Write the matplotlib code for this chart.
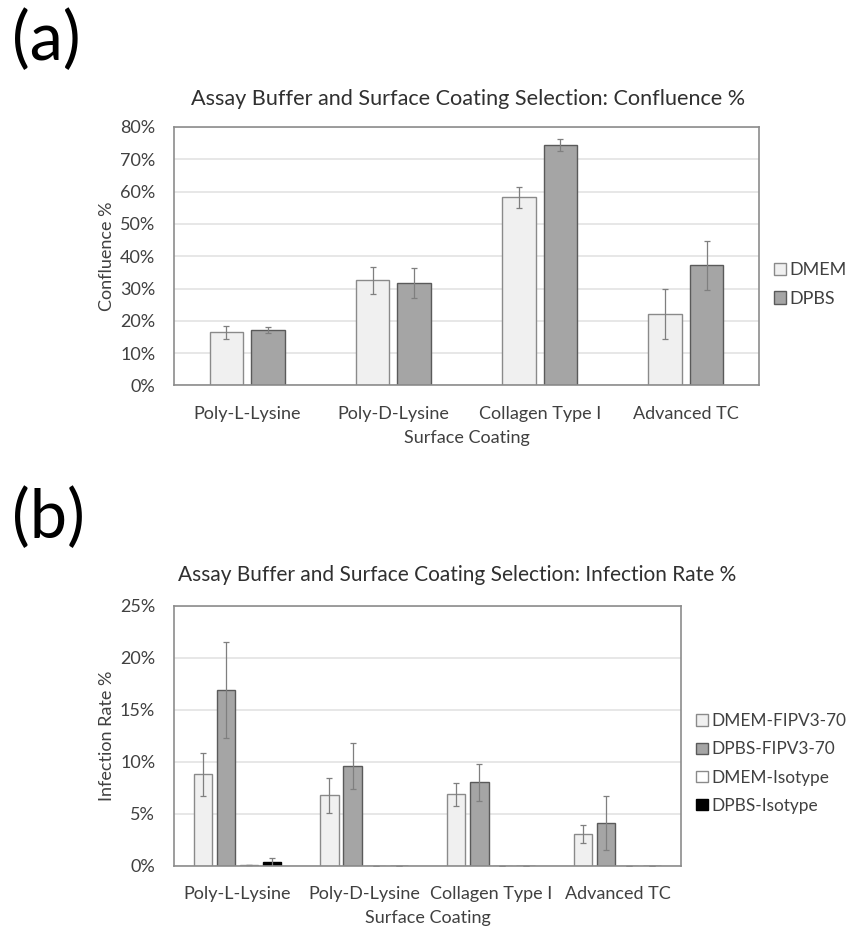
import numpy as np
import matplotlib
matplotlib.use("Agg")
import matplotlib.pyplot as plt
from matplotlib.ticker import FuncFormatter, MultipleLocator

plt.rcParams['font.family'] = ['Lato', 'DejaVu Sans']

# Données
coatings = ["Poly-L-Lysine", "Poly-D-Lysine", "Collagen Type I", "Advanced TC"]

conf_dmem = [16.4, 32.5, 58.2, 22.1]
conf_dmem_err = [1.9, 4.1, 3.3, 7.7]
conf_dpbs = [17.1, 31.7, 74.4, 37.2]
conf_dpbs_err = [0.9, 4.7, 1.8, 7.6]

inf_dmem_fipv = [8.8, 6.8, 6.9, 3.1]
inf_dmem_fipv_err = [2.05, 1.7, 1.1, 0.85]
inf_dpbs_fipv = [16.9, 9.6, 8.05, 4.1]
inf_dpbs_fipv_err = [4.6, 2.2, 1.8, 2.6]
inf_dmem_iso = [0.13, 0.03, 0.03, 0.03]
inf_dmem_iso_err = [0.0, 0.0, 0.0, 0.0]
inf_dpbs_iso = [0.35, 0.03, 0.03, 0.03]
inf_dpbs_iso_err = [0.45, 0.0, 0.0, 0.0]

txt = '#404040'
grid_c = '#e3e3e3'
frame_c = '#8c8c8c'
err_c = '#7f7f7f'
fs = 13


def style_axes(ax, ymax, step):
    ax.set_ylim(0, ymax)
    ax.set_xlim(-0.5, len(coatings) - 0.5)
    ax.yaxis.set_major_locator(MultipleLocator(step))
    ax.yaxis.set_major_formatter(FuncFormatter(lambda v, p: f"{v:.0f}%"))
    ax.grid(axis='y', color=grid_c, linewidth=1.2)
    ax.set_axisbelow(True)
    for s in ax.spines.values():
        s.set_color(frame_c)
        s.set_linewidth(1.2)
    ax.tick_params(length=0, labelsize=fs, colors=txt)
    ax.tick_params(axis='y', pad=13.5)
    ax.tick_params(axis='x', pad=14.5)
    ax.set_xticks(range(len(coatings)))
    ax.set_xticklabels(coatings)
    ax.set_xlabel("Surface Coating", fontsize=fs, color=txt, labelpad=6)


def bars(ax, x, vals, errs, w, fc, ec, label):
    ax.bar(x, vals, w, color=fc, edgecolor=ec, linewidth=1.0, label=label,
           yerr=errs, error_kw=dict(ecolor=err_c, elinewidth=0.9, capsize=2, capthick=0.9))


def legend(ax, x0, yc, size):
    ax.legend(loc='center left', bbox_to_anchor=(x0, yc), bbox_transform=fig.transFigure,
              frameon=False, fontsize=size, handlelength=0.68, handleheight=0.68,
              handletextpad=0.2, labelspacing=0.7, borderpad=0, borderaxespad=0,
              labelcolor=txt)


fig = plt.figure(figsize=(8.48, 9.26), dpi=100)
x = np.arange(len(coatings))

# (a) Confluence
ax1 = fig.add_axes([0.2052, 0.5837, 0.6899, 0.2792])
bars(ax1, x - 0.1415, conf_dmem, conf_dmem_err, 0.229, '#f0f0f0', '#8a8a8a', "DMEM")
bars(ax1, x + 0.1415, conf_dpbs, conf_dpbs_err, 0.229, '#a5a5a5', '#5a5a5a', "DPBS")
style_axes(ax1, 80, 10)
ax1.set_ylabel("Confluence %", fontsize=fs, color=txt, labelpad=3.5)
fig.text(0.552, 0.8931, "Assay Buffer and Surface Coating Selection: Confluence %",
         ha='center', va='center', fontsize=15.6, color='#303030')
legend(ax1, 0.9127, 0.6928, fs)

# (b) Infection rate
ax2 = fig.add_axes([0.2052, 0.0648, 0.5979, 0.2808])
w2 = 0.145
bars(ax2, x - 0.2734, inf_dmem_fipv, inf_dmem_fipv_err, w2, '#f0f0f0', '#8a8a8a', "DMEM-FIPV3-70")
bars(ax2, x - 0.0911, inf_dpbs_fipv, inf_dpbs_fipv_err, w2, '#a5a5a5', '#5a5a5a', "DPBS-FIPV3-70")
bars(ax2, x + 0.0911, inf_dmem_iso, inf_dmem_iso_err, w2, '#ffffff', '#8a8a8a', "DMEM-Isotype")
bars(ax2, x + 0.2734, inf_dpbs_iso, inf_dpbs_iso_err, w2, '#000000', '#000000', "DPBS-Isotype")
style_axes(ax2, 25, 5)
ax2.set_ylabel("Infection Rate %", fontsize=fs, color=txt, labelpad=3.5)
fig.text(0.5395, 0.379, "Assay Buffer and Surface Coating Selection: Infection Rate %",
         ha='center', va='center', fontsize=15.0, color='#303030')
legend(ax2, 0.8208, 0.1755, 12.4)

# Panel letters
fig.text(0.014, 0.9557, "(a)", fontsize=48, ha='left', va='center', color='black')
fig.text(0.014, 0.4395, "(b)", fontsize=48, ha='left', va='center', color='black')

fig.savefig("out.png", dpi=100)
